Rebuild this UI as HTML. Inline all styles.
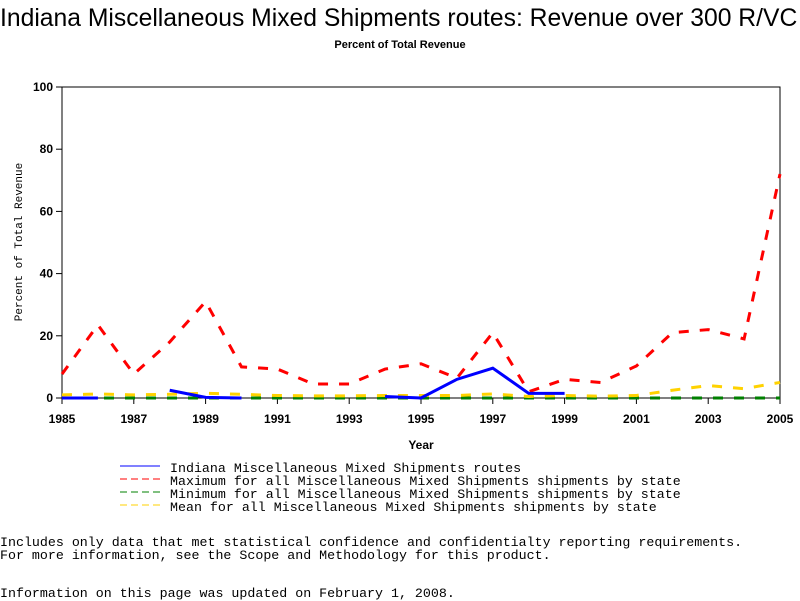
<!DOCTYPE html>
<html><head><meta charset="utf-8"><style>
body{margin:0;background:#fff;width:800px;height:600px;overflow:hidden;position:relative;font-family:"Liberation Sans",sans-serif}
.t{position:absolute;white-space:pre}
.mono{font-family:"Liberation Mono",monospace}
</style></head><body>
<div class="t" style="left:0;top:5px;font-size:24.7px">Indiana Miscellaneous Mixed Shipments routes: Revenue over 300 R/VC</div>
<div class="t" style="left:0;width:800px;text-align:center;top:39px;font-size:11px;font-weight:bold">Percent of Total Revenue</div>
<svg id="chart" width="800" height="600" style="position:absolute;left:0;top:0" font-family="Liberation Sans, sans-serif"></svg>
<div class="t mono" style="left:0;top:535px;font-size:13.3px">Includes only data that met statistical confidence and confidentialty reporting requirements.</div>
<div class="t mono" style="left:0;top:548px;font-size:13.3px">For more information, see the Scope and Methodology for this product.</div>
<div class="t mono" style="left:0;top:586px;font-size:13.3px">Information on this page was updated on February 1, 2008.</div>
<script>
const years=[1985,1986,1987,1988,1989,1990,1991,1992,1993,1994,1995,1996,1997,1998,1999,2000,2001,2002,2003,2004,2005];
const indiana=[0,0,null,2.5,0.2,0,null,null,null,0.5,0,6,9.6,1.5,1.5,null,null,null,null,null,null];
const maxVals=[7.7,23.5,7.7,18,31,10,9.3,4.5,4.5,9.3,11,6.4,21,2,6,5,10.3,21,22,19,72];
const minVals=[0,0,0,0,0,0,0,0,0,0,0,0,0,0,0,0,0,0,0,0,0];
const meanVals=[1,1.3,1,1.2,1.5,1.2,0.8,0.7,0.7,0.8,0.8,0.8,1.3,0.5,0.8,0.6,0.8,2.5,4,3,5];
const yTicks=[0,20,40,60,80,100];
const xTicks=[1985,1987,1989,1991,1993,1995,1997,1999,2001,2003,2005];
const legendLabels=["Indiana Miscellaneous Mixed Shipments routes","Maximum for all Miscellaneous Mixed Shipments shipments by state","Minimum for all Miscellaneous Mixed Shipments shipments by state","Mean for all Miscellaneous Mixed Shipments shipments by state"];
const L=62,R=780,T=87,B=398;
const xs=y=>L+(y-1985)/(2005-1985)*(R-L);
const ys=v=>B-v/100*(B-T);
const svg=document.getElementById('chart');
const NS='http://www.w3.org/2000/svg';
function mk(tag,at,parent){const e=document.createElementNS(NS,tag);for(const k in at)e.setAttribute(k,at[k]);(parent||svg).appendChild(e);return e;}
let frame=mk('rect',{x:L,y:T,width:R-L,height:B-T,fill:'none',stroke:'#000','stroke-width':1});


yTicks.forEach(v=>{
  const tk=mk('line',{x1:L-6,x2:L,y1:ys(v),y2:ys(v),stroke:'#000'});
  
  
  const tx=mk('text',{x:L-9,y:ys(v)+4,'text-anchor':'end','font-size':12,'font-weight':'bold'});
  tx.textContent=v;
  
  
});
xTicks.forEach(v=>{
  const tk=mk('line',{x1:xs(v),x2:xs(v),y1:B,y2:B+6,stroke:'#000'});
  
  
  const tx=mk('text',{x:xs(v),y:B+25,'text-anchor':'middle','font-size':12,'font-weight':'bold'});
  tx.textContent=v;
  
  
});
const xt=mk('text',{x:(L+R)/2,y:449,'text-anchor':'middle','font-size':12,'font-weight':'bold'});
xt.textContent='Year';


const yt=mk('text',{x:0,y:0,'text-anchor':'middle','font-size':11,'font-family':'Liberation Mono, monospace',transform:'translate(22,242) rotate(-90)'});
yt.textContent='Percent of Total Revenue';


function series(vals,color,dash,w,name){
  let d='',pen=false;
  vals.forEach((v,i)=>{if(v===null){pen=false;return;}d+=(pen?'L':'M')+xs(years[i])+','+ys(v);pen=true;});
  const p=mk('path',{d:d,fill:'none',stroke:color,'stroke-width':w,'stroke-dasharray':dash});
  
  
}
series(minVals,'#008000','10,11',3,'min-line');
series(meanVals,'#FFD200','10,11',3,'mean-line');
series(maxVals,'#FF0000','10,11',3,'max-line');
series(indiana,'#0000FF','none',3,'indiana-line');
const lc=[['#0000FF','none'],['#FF0000','7,4'],['#008000','7,4'],['#FFD200','7,4']];
legendLabels.forEach((lab,i)=>{
  const y=468+i*13;
  const ln=mk('line',{x1:120,x2:160,y1:y-2,y2:y-2,stroke:lc[i][0],'stroke-dasharray':lc[i][1]});
  
  
  const tx=mk('text',{x:170,y:y+4,'font-size':13.3,'font-family':'Liberation Mono, monospace'});
  tx.textContent=lab;
  
  
});
</script>
</body></html>
